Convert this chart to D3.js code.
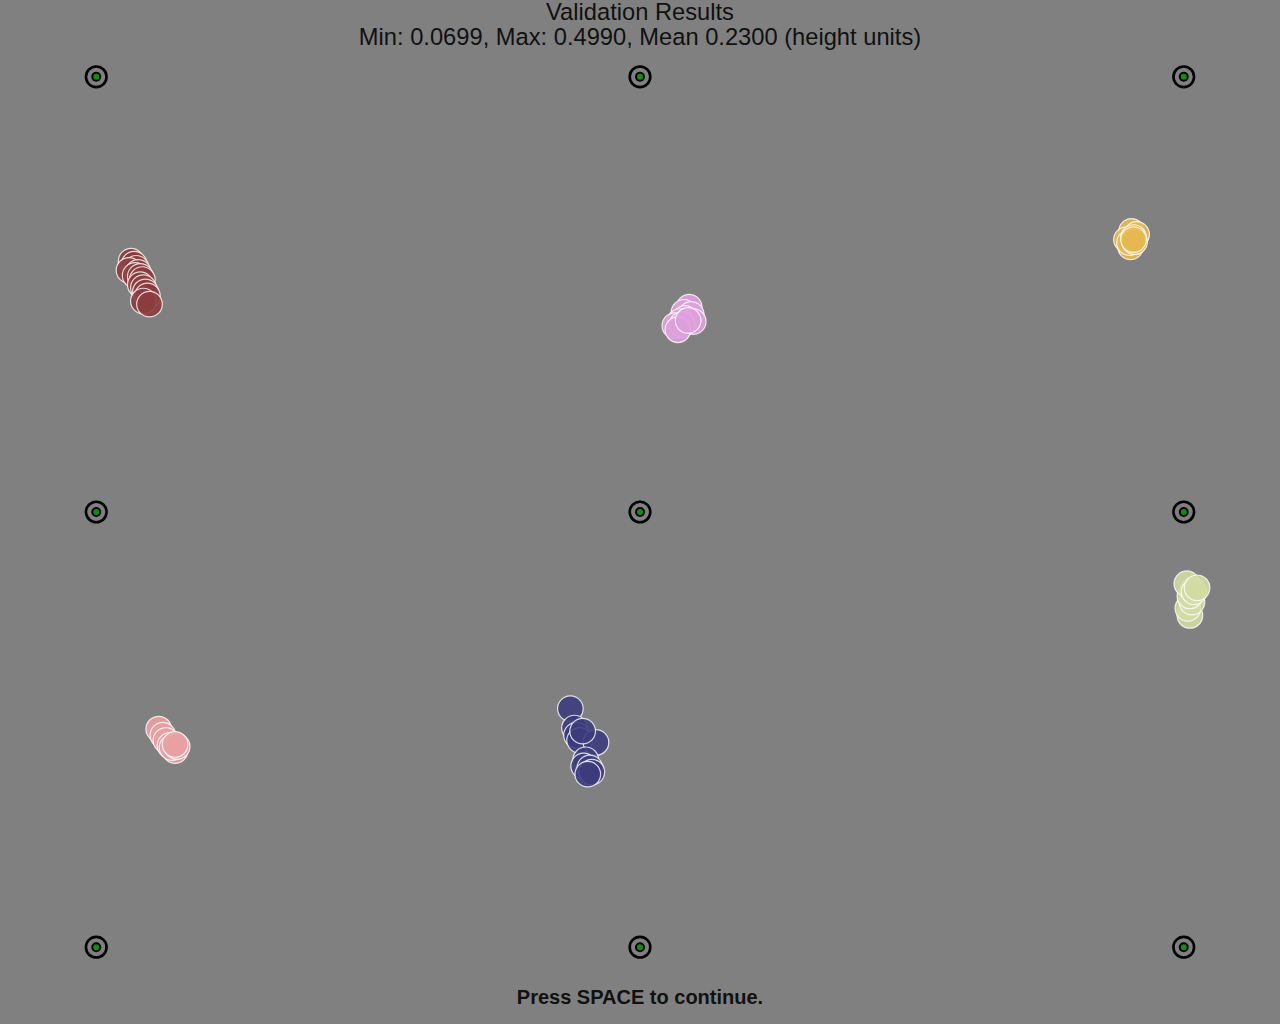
<!DOCTYPE html>
<html><head><meta charset="utf-8">
<script src="https://cdn.jsdelivr.net/npm/d3@7"></script>
<style>html,body{margin:0;padding:0;background:#808080;overflow:hidden}</style>
</head><body>
<script>
// Positions in PsychoPy "height" units
const targetsX = [-0.531, 0, 0.531];
const targetsY = [0.425, 0, -0.425];
const groupColors = ["#8c3c3c", "#dea0dc", "#e8b850", "#d2dca2", "#e8a0a2", "#3c3c7c"];
const brownX = [-0.497,-0.494,-0.492,-0.499,-0.490,-0.493,-0.488,-0.486,-0.488,-0.485,-0.483,-0.481,-0.485,-0.479];
const brownY = [0.245,0.242,0.238,0.236,0.234,0.231,0.230,0.227,0.222,0.219,0.215,0.211,0.206,0.203];
const pinkX = [0.048,0.043,0.050,0.044,0.052,0.039,0.034,0.041,0.037,0.047];
const pinkY = [0.200,0.195,0.193,0.189,0.186,0.186,0.182,0.183,0.178,0.187];
const goldX = [0.480,0.485,0.475,0.479,0.478,0.482,0.483,0.482];
const goldY = [0.274,0.271,0.266,0.259,0.263,0.268,0.264,0.266];
const greenX = [0.537,0.535,0.539,0.537,0.540,0.534,0.541,0.544];
const greenY = [-0.101,-0.094,-0.088,-0.082,-0.076,-0.070,-0.078,-0.074];
const salmonX = [-0.470,-0.466,-0.463,-0.459,-0.454,-0.457,-0.452,-0.454];
const salmonY = [-0.212,-0.218,-0.223,-0.228,-0.233,-0.230,-0.229,-0.227];
const navyX = [-0.068,-0.064,-0.062,-0.059,-0.043,-0.053,-0.055,-0.049,-0.047,-0.051,-0.056];
const navyY = [-0.192,-0.211,-0.218,-0.223,-0.225,-0.242,-0.248,-0.250,-0.254,-0.256,-0.214];
const titleText = "Validation Results";
const statsText = "Min: 0.0699, Max: 0.4990, Mean 0.2300 (height units)";
const footerText = "Press SPACE to continue.";

const W = 1280, H = 1024;
const x = d3.scaleLinear().domain([-0.625, 0.625]).range([0, W]);
const y = d3.scaleLinear().domain([0.5, -0.5]).range([0, H]);

const svg = d3.select("body").append("svg").attr("width", W).attr("height", H);
svg.append("rect").attr("width", W).attr("height", H).attr("fill", "#808080");

// targets
const targets = [];
targetsY.forEach(ty => targetsX.forEach(tx => targets.push({x: tx, y: ty})));
const tg = svg.append("g").selectAll("g").data(targets).join("g")
  .attr("transform", d => `translate(${x(d.x)},${y(d.y)})`);
tg.append("circle").attr("r", 10.3).attr("fill", "none").attr("stroke", "#000").attr("stroke-width", 2.6);
tg.append("circle").attr("r", 5).attr("fill", "#000");
tg.append("circle").attr("r", 3).attr("fill", "#0e900e");

// gaze samples
const groups = [
  [brownX, brownY], [pinkX, pinkY], [goldX, goldY],
  [greenX, greenY], [salmonX, salmonY], [navyX, navyY]
];
groups.forEach((g, i) => {
  const pts = g[0].map((v, j) => ({x: v, y: g[1][j]}));
  svg.append("g").selectAll("circle").data(pts).join("circle")
    .attr("cx", d => x(d.x)).attr("cy", d => y(d.y)).attr("r", 12.8)
    .attr("fill", groupColors[i]).attr("fill-opacity", 0.9)
    .attr("stroke", "#fff").attr("stroke-opacity", 0.8).attr("stroke-width", 1.2);
});

// texts
const font = "Liberation Sans, Arial, Helvetica, sans-serif";
svg.append("text").attr("x", W/2).attr("y", 20).attr("text-anchor", "middle")
  .attr("font-family", font).attr("font-size", 23.7).attr("fill", "#111")
  .text(titleText);
svg.append("text").attr("x", W/2).attr("y", 45).attr("text-anchor", "middle")
  .attr("font-family", font).attr("font-size", 23.7).attr("fill", "#111")
  .text(statsText);
svg.append("text").attr("x", W/2).attr("y", 1004).attr("text-anchor", "middle")
  .attr("font-family", font).attr("font-weight", "bold").attr("font-size", 20).attr("fill", "#111")
  .text(footerText);
</script>
</body></html>
